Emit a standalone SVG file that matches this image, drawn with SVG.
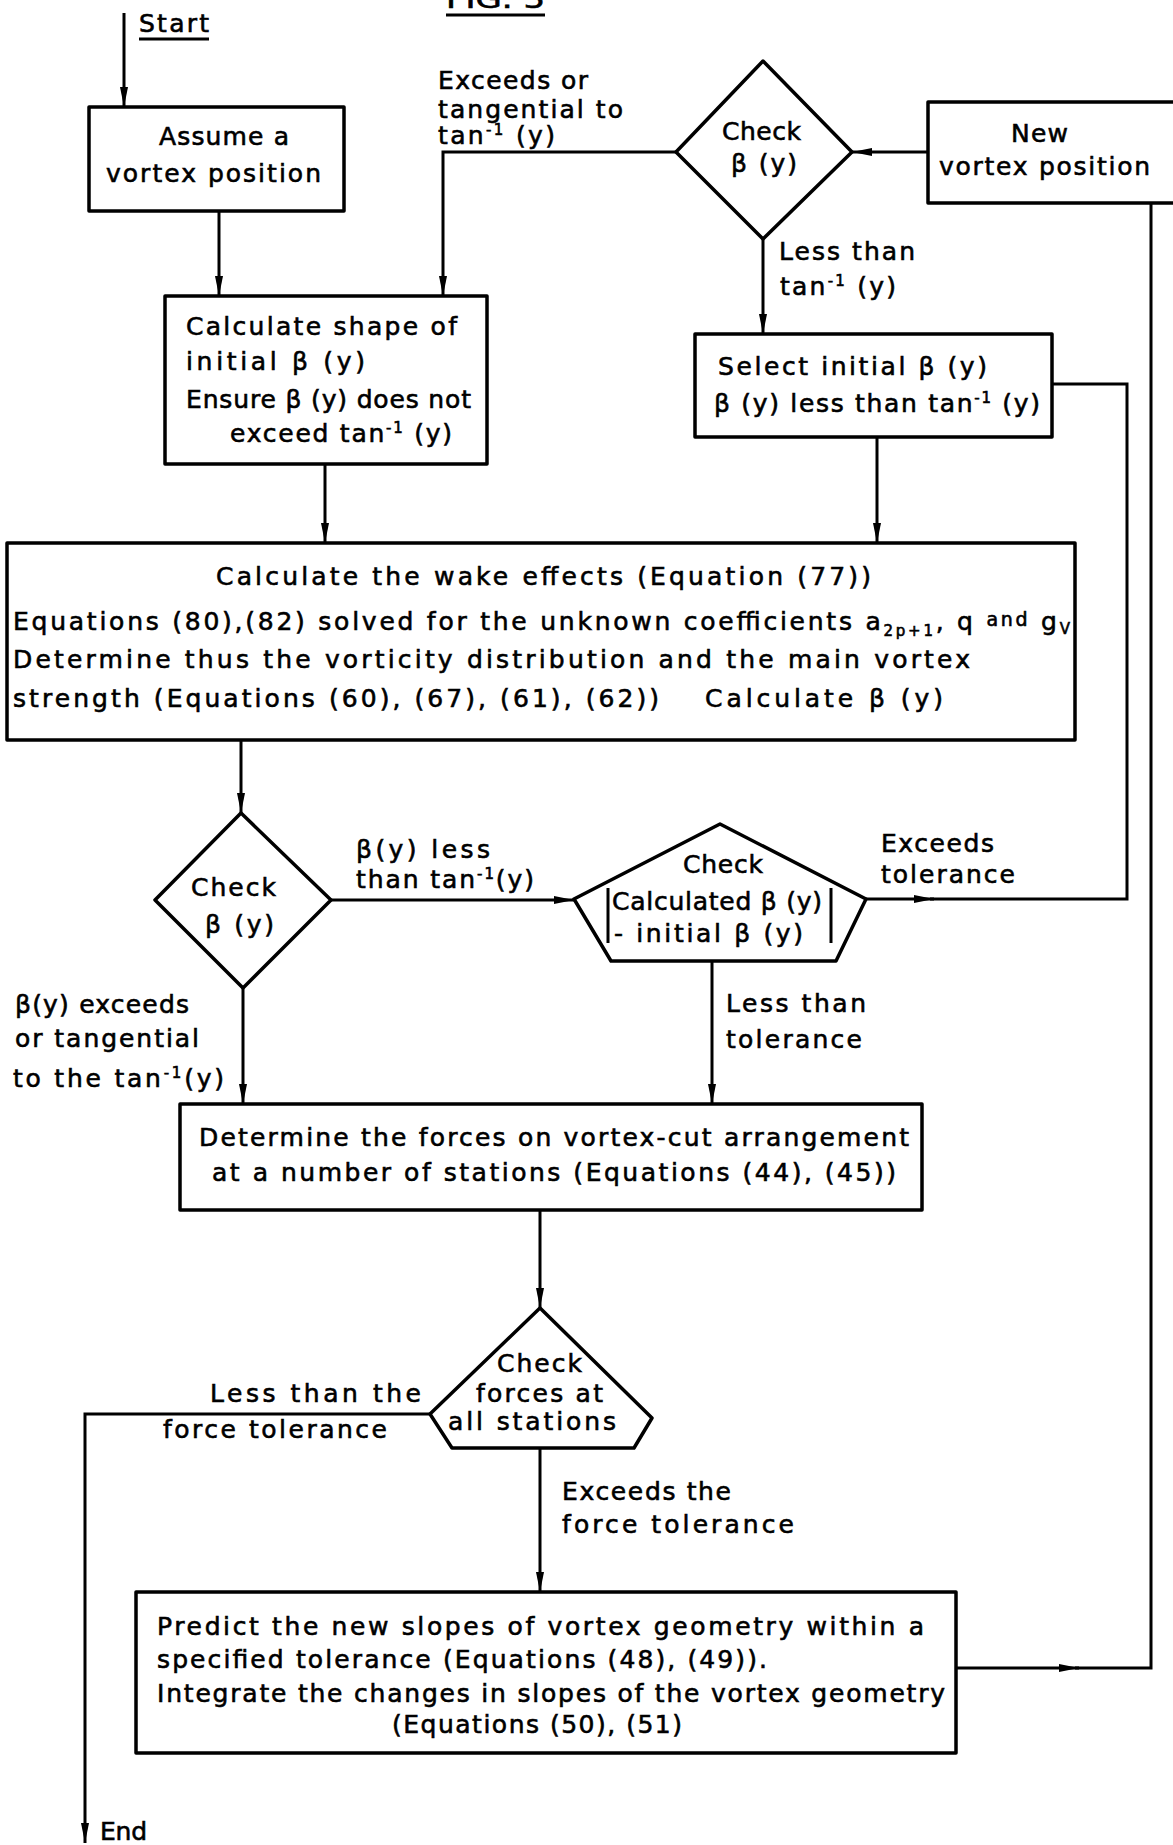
<svg xmlns="http://www.w3.org/2000/svg" width="1173" height="1845" viewBox="0 0 1173 1845">
<style>
.t{font-family:"DejaVu Sans","Liberation Sans",Arial,sans-serif;font-size:25px;fill:#000;stroke:#000;stroke-width:0.6}
.s{font-size:15px}
.m{font-size:19px}
.box{fill:#fff;stroke:#000;stroke-width:3.5;stroke-linejoin:round}
.ln{fill:none;stroke:#000;stroke-width:3}
</style>
<defs>
<marker id="ah" viewBox="0 0 20 10" refX="20" refY="5" markerWidth="20" markerHeight="10" markerUnits="userSpaceOnUse" orient="auto">
<path d="M0,1 L20,5 L0,9 Z" fill="#000"/>
</marker>
</defs>
<rect width="1173" height="1845" fill="#fff"/>

<g id="title">
<text class="t" x="446" y="8" textLength="99" lengthAdjust="spacingAndGlyphs">FIG. 5</text>
<line class="ln" x1="446" y1="15" x2="545" y2="15"/>
</g>

<g id="connectors">
<line class="ln" x1="124" y1="13" x2="124" y2="107" marker-end="url(#ah)"/>
<line class="ln" x1="219" y1="211" x2="219" y2="296" marker-end="url(#ah)"/>
<polyline class="ln" points="676,152 443,152 443,296" marker-end="url(#ah)"/>
<line class="ln" x1="928" y1="152" x2="852" y2="152" marker-end="url(#ah)"/>
<line class="ln" x1="763" y1="239" x2="763" y2="334" marker-end="url(#ah)"/>
<line class="ln" x1="325" y1="464" x2="325" y2="543" marker-end="url(#ah)"/>
<line class="ln" x1="877" y1="437" x2="877" y2="543" marker-end="url(#ah)"/>
<line class="ln" x1="241" y1="740" x2="241" y2="813" marker-end="url(#ah)"/>
<line class="ln" x1="331" y1="900" x2="574" y2="900" marker-end="url(#ah)"/>
<line class="ln" x1="866" y1="899" x2="934" y2="899" marker-end="url(#ah)"/>
<polyline class="ln" points="930,899 1127,899 1127,384 1052,384"/>
<line class="ln" x1="712" y1="961" x2="712" y2="1104" marker-end="url(#ah)"/>
<line class="ln" x1="243" y1="988" x2="243" y2="1104" marker-end="url(#ah)"/>
<line class="ln" x1="540" y1="1210" x2="540" y2="1308" marker-end="url(#ah)"/>
<polyline class="ln" points="430,1414 85,1414 85,1843" marker-end="url(#ah)"/>
<line class="ln" x1="540" y1="1448" x2="540" y2="1592" marker-end="url(#ah)"/>
<line class="ln" x1="956" y1="1668" x2="1079" y2="1668" marker-end="url(#ah)"/>
<polyline class="ln" points="1075,1668 1151,1668 1151,203"/>
</g>

<g id="start">
<text class="t" x="139" y="32" textLength="70" lengthAdjust="spacing">Start</text>
<line class="ln" x1="139" y1="39" x2="209" y2="39"/>
</g>

<g id="assume">
<rect class="box" x="89" y="107" width="255" height="104"/>
<text class="t" x="159" y="145" textLength="130" lengthAdjust="spacing">Assume a</text>
<text class="t" x="106" y="182" textLength="215" lengthAdjust="spacing">vortex position</text>
</g>

<g id="check1">
<polygon class="box" points="763,61 852,152 763,239 676,152"/>
<text class="t" x="722" y="140" textLength="79" lengthAdjust="spacing">Check</text>
<text class="t" x="731" y="172" textLength="66" lengthAdjust="spacing">β (y)</text>
</g>

<g id="newpos">
<rect class="box" x="928" y="102" width="250" height="101"/>
<text class="t" x="1011" y="142" textLength="57" lengthAdjust="spacing">New</text>
<text class="t" x="939" y="175" textLength="211" lengthAdjust="spacing">vortex position</text>
</g>

<g id="labels-top">
<text class="t" x="438" y="89" textLength="150" lengthAdjust="spacing">Exceeds or</text>
<text class="t" x="438" y="118" textLength="185" lengthAdjust="spacing">tangential to</text>
<text class="t" x="438" y="144" textLength="117" lengthAdjust="spacing">tan<tspan class="s" dy="-9">-1</tspan><tspan dy="9"> (y)</tspan></text>
<text class="t" x="779" y="260" textLength="136" lengthAdjust="spacing">Less than</text>
<text class="t" x="780" y="295" textLength="116" lengthAdjust="spacing">tan<tspan class="s" dy="-9">-1</tspan><tspan dy="9"> (y)</tspan></text>
</g>

<g id="calcshape">
<rect class="box" x="165" y="296" width="322" height="168"/>
<text class="t" x="186" y="335" textLength="271" lengthAdjust="spacing">Calculate shape of</text>
<text class="t" x="186" y="370" textLength="179" lengthAdjust="spacing">initial  β (y)</text>
<text class="t" x="186" y="408" textLength="285" lengthAdjust="spacing">Ensure β (y) does not</text>
<text class="t" x="230" y="442" textLength="222" lengthAdjust="spacing">exceed  tan<tspan class="s" dy="-9">-1</tspan><tspan dy="9"> (y)</tspan></text>
</g>

<g id="select">
<rect class="box" x="695" y="334" width="357" height="103"/>
<text class="t" x="718" y="375" textLength="269" lengthAdjust="spacing">Select  initial β (y)</text>
<text class="t" x="714" y="412" textLength="326" lengthAdjust="spacing">β (y) less than tan<tspan class="s" dy="-9">-1</tspan><tspan dy="9"> (y)</tspan></text>
</g>

<g id="wake">
<rect class="box" x="7" y="543" width="1068" height="197"/>
<text class="t" x="216" y="585" textLength="655" lengthAdjust="spacing">Calculate the wake effects (Equation (77))</text>
<text class="t" x="13" y="630" textLength="1057" lengthAdjust="spacing">Equations (80),(82) solved for the unknown coefficients a<tspan class="s" dy="6">2p+1</tspan><tspan dy="-6">, q </tspan><tspan class="m" dy="-4">and</tspan><tspan dy="4"> g</tspan><tspan class="s" dy="4">V</tspan></text>
<text class="t" x="13" y="668" textLength="957" lengthAdjust="spacing">Determine thus the vorticity distribution and the main vortex</text>
<text class="t" x="13" y="707" textLength="646" lengthAdjust="spacing">strength (Equations (60), (67), (61), (62))</text>
<text class="t" x="705" y="707" textLength="238" lengthAdjust="spacing">Calculate β (y)</text>
</g>

<g id="check2">
<polygon class="box" points="241,813 331,900 243,988 155,900"/>
<text class="t" x="191" y="896" textLength="85" lengthAdjust="spacing">Check</text>
<text class="t" x="205" y="933" textLength="69" lengthAdjust="spacing">β (y)</text>
</g>

<g id="labels-mid">
<text class="t" x="356" y="858" textLength="134" lengthAdjust="spacing">β(y)  less</text>
<text class="t" x="356" y="888" textLength="178" lengthAdjust="spacing">than tan<tspan class="s" dy="-9">-1</tspan><tspan dy="9">(y)</tspan></text>
<text class="t" x="881" y="852" textLength="113" lengthAdjust="spacing">Exceeds</text>
<text class="t" x="881" y="883" textLength="134" lengthAdjust="spacing">tolerance</text>
<text class="t" x="726" y="1012" textLength="140" lengthAdjust="spacing">Less than</text>
<text class="t" x="726" y="1048" textLength="136" lengthAdjust="spacing">tolerance</text>
<text class="t" x="15" y="1013" textLength="174" lengthAdjust="spacing">β(y) exceeds</text>
<text class="t" x="15" y="1047" textLength="184" lengthAdjust="spacing">or tangential</text>
<text class="t" x="13" y="1087" textLength="211" lengthAdjust="spacing">to  the tan<tspan class="s" dy="-9">-1</tspan><tspan dy="9">(y)</tspan></text>
</g>

<g id="checktol">
<polygon class="box" points="720,824 866,899 836,961 611,961 574,899"/>
<text class="t" x="683" y="873" textLength="80" lengthAdjust="spacing">Check</text>
<text class="t" x="612" y="910" textLength="210" lengthAdjust="spacing">Calculated β (y)</text>
<text class="t" x="614" y="942" textLength="189" lengthAdjust="spacing">- initial β (y)</text>
<line class="ln" x1="608" y1="888" x2="608" y2="943"/>
<line class="ln" x1="831" y1="888" x2="831" y2="943"/>
</g>

<g id="forces">
<rect class="box" x="180" y="1104" width="742" height="106"/>
<text class="t" x="199" y="1146" textLength="710" lengthAdjust="spacing">Determine the forces on vortex-cut arrangement</text>
<text class="t" x="212" y="1181" textLength="684" lengthAdjust="spacing">at a number  of stations (Equations (44), (45))</text>
</g>

<g id="checkforces">
<polygon class="box" points="540,1308 652,1418 634,1448 452,1448 430,1414"/>
<text class="t" x="497" y="1372" textLength="85" lengthAdjust="spacing">Check</text>
<text class="t" x="476" y="1402" textLength="127" lengthAdjust="spacing">forces at</text>
<text class="t" x="448" y="1430" textLength="168" lengthAdjust="spacing">all stations</text>
</g>

<g id="labels-low">
<text class="t" x="210" y="1402" textLength="211" lengthAdjust="spacing">Less than the</text>
<text class="t" x="163" y="1438" textLength="224" lengthAdjust="spacing">force tolerance</text>
<text class="t" x="562" y="1500" textLength="169" lengthAdjust="spacing">Exceeds the</text>
<text class="t" x="562" y="1533" textLength="232" lengthAdjust="spacing">force tolerance</text>
</g>

<g id="predict">
<rect class="box" x="136" y="1592" width="820" height="161"/>
<text class="t" x="157" y="1635" textLength="767" lengthAdjust="spacing">Predict the new slopes of vortex geometry within a</text>
<text class="t" x="157" y="1668" textLength="610" lengthAdjust="spacing">specified tolerance (Equations (48), (49)).</text>
<text class="t" x="157" y="1702" textLength="788" lengthAdjust="spacing">Integrate the changes in slopes of the vortex geometry</text>
<text class="t" x="392" y="1733" textLength="290" lengthAdjust="spacing">(Equations (50), (51)</text>
</g>

<g id="end">
<text class="t" x="100" y="1840" textLength="47" lengthAdjust="spacing">End</text>
</g>
</svg>
